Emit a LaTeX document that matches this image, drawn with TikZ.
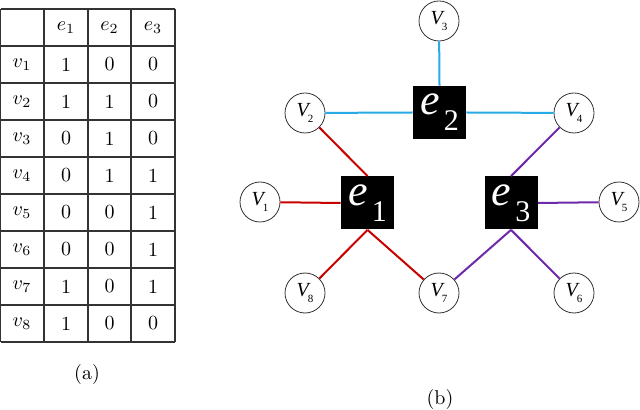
\documentclass[tikz,border=0pt]{standalone}
\usepackage{amsmath}
\usepackage{fontspec}
\newfontfamily\timesfont{Liberation Serif}
\usepackage{tikz}
\usetikzlibrary{positioning}

\definecolor{edgeone}{RGB}{200,0,0}
\definecolor{edgetwo}{RGB}{40,170,228}
\definecolor{edgethree}{RGB}{110,40,170}

\newcommand{\vlab}[1]{\timesfont\itshape V\kern-0.5pt\raisebox{-3pt}{\upshape\fontsize{5.5}{5.5}\selectfont #1}}
\newcommand{\elab}[1]{\timesfont\fontsize{22}{22}\selectfont\itshape e\kern2pt\raisebox{-8pt}{\upshape\fontsize{15}{15}\selectfont #1}}

\tikzset{
  cell/.style={inner sep=0, font=\normalsize},
  vert/.style={circle, draw=black!80, line width=0.4pt, fill=white, minimum size=20pt, inner sep=0},
  hedge/.style={fill=black, minimum size=26.5pt, inner sep=0, text=white},
  link/.style={line width=1pt},
}

\begin{document}
\begin{tikzpicture}[x=0.5pt, y=-0.5pt]
\useasboundingbox (0,0) rectangle (640,410);

% (a) incidence table
\foreach \k in {0,...,9}
  \draw[line width=0.6pt, black!80] (0.5,{9+37*\k}) -- (175,{9+37*\k});
\foreach \c in {0.5,44,88,131,175}
  \draw[line width=0.6pt, black!80] (\c,9) -- (\c,342);
\foreach \j/\c in {1/66,2/109.5,3/153}
  \node[cell] (h\j) at (\c,27.5) {$e_{\j}$};
\foreach \a/\b/\d [count=\i] in {1/0/0, 1/1/0, 0/1/0, 0/1/1, 0/0/1, 0/0/1, 1/0/1, 1/0/0}{
  \node[cell] (v\i) at (22,{27.5+37*\i}) {$v_{\i}$};
  \node[cell] (c\i a) at (66,{27.5+37*\i}) {\a};
  \node[cell] (c\i b) at (109.5,{27.5+37*\i}) {\b};
  \node[cell] (c\i c) at (153,{27.5+37*\i}) {\d};
}
\node (capa) at (87,374) {(a)};

% (b) hypergraph
\node[hedge] (E1) at (367.5,203) {\elab{1}};
\node[hedge] (E2) at (439.5,112.5) {\elab{2}};
\node[hedge] (E3) at (511,203) {\elab{3}};

\node[vert] (V1) at (260,202) {\vlab{1}};
\node[vert] (V2) at (305,113) {\vlab{2}};
\node[vert] (V3) at (439,21) {\vlab{3}};
\node[vert] (V4) at (574,113) {\vlab{4}};
\node[vert] (V5) at (619,202) {\vlab{5}};
\node[vert] (V6) at (574,293) {\vlab{6}};
\node[vert] (V7) at (439,293) {\vlab{7}};
\node[vert] (V8) at (305,293) {\vlab{8}};

\draw[link, edgeone] (V1) -- (E1.west);
\draw[link, edgeone] (V2) -- (E1.north);
\draw[link, edgeone] (V8) -- (E1.south);
\draw[link, edgeone] (V7) -- (E1.south);

\draw[link, edgetwo] (V2) -- (E2.west);
\draw[link, edgetwo] (V3) -- (E2.north);
\draw[link, edgetwo] (V4) -- (E2.east);

\draw[link, edgethree] (V4) -- (E3.north);
\draw[link, edgethree] (V5) -- (E3.east);
\draw[link, edgethree] (V6) -- (E3.south);
\draw[link, edgethree] (V7) -- (E3.south);

\node (capb) at (440,399) {(b)};
\end{tikzpicture}
\end{document}
